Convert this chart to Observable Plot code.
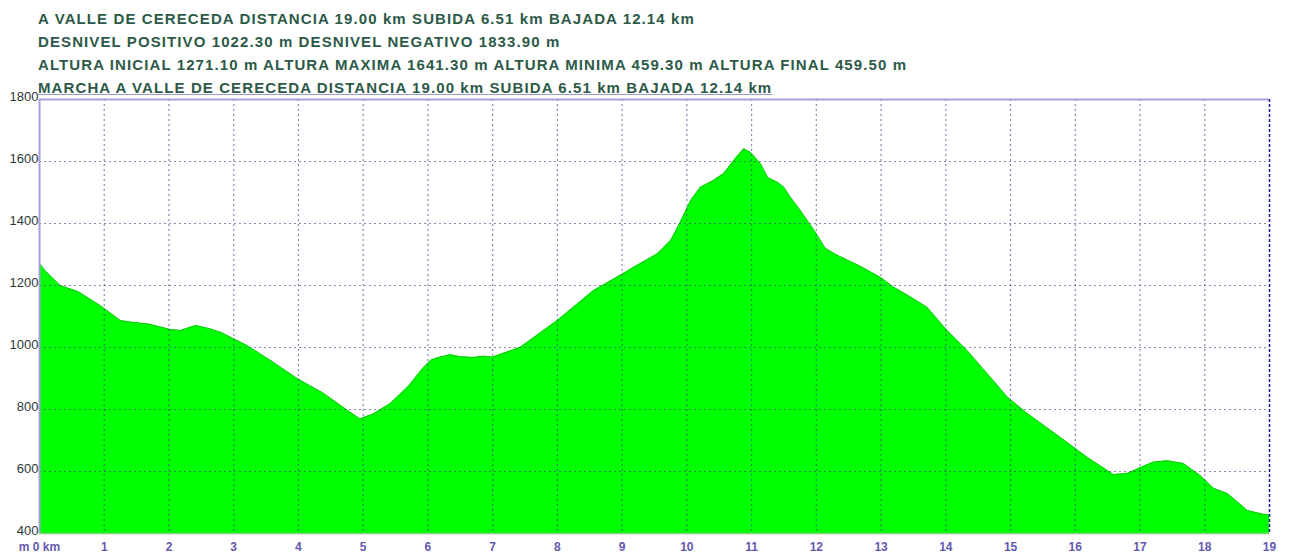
<!DOCTYPE html>
<html>
<head>
<meta charset="utf-8">
<script src="https://cdn.jsdelivr.net/npm/d3@7"></script>
<script src="https://cdn.jsdelivr.net/npm/@observablehq/plot@0.6"></script>
<style>
  html, body { margin: 0; padding: 0; background: #fff; }
  #header { height: 95px; box-sizing: border-box; padding: 7px 0 0 38px; font-family: "Liberation Sans", Arial, sans-serif; font-size: 15px; font-weight: bold; color: #2d5a48; }
  #header div { height: 23px; line-height: 23px; white-space: nowrap; letter-spacing: 1.1px; }
  #header .l4 { text-decoration: underline; text-decoration-color: #9a9ad0; }
</style>
</head>
<body>
<div id="header"></div>
<div id="chart"></div>
<script>
const titleLines = [
  "A VALLE DE CERECEDA DISTANCIA 19.00 km SUBIDA 6.51 km BAJADA 12.14 km",
  "DESNIVEL POSITIVO 1022.30 m DESNIVEL NEGATIVO 1833.90 m",
  "ALTURA INICIAL 1271.10 m ALTURA MAXIMA 1641.30 m ALTURA MINIMA 459.30 m ALTURA FINAL 459.50 m",
  "MARCHA A VALLE DE CERECEDA DISTANCIA 19.00 km SUBIDA 6.51 km BAJADA 12.14 km"
];

const distanceKm = [0, 0.1, 0.32, 0.6, 0.94, 1.25, 1.4, 1.7, 2.02, 2.18, 2.41, 2.6, 2.8, 3.21, 3.57, 3.98, 4.39, 4.76, 4.95, 5.15, 5.42, 5.7, 5.93, 6.05, 6.19, 6.35, 6.5, 6.7, 6.85, 7.0, 7.43, 8.0, 8.56, 9.02, 9.18, 9.55, 9.75, 9.86, 10.06, 10.21, 10.41, 10.57, 10.75, 10.88, 10.98, 11.14, 11.25, 11.4, 11.5, 11.6, 11.76, 11.96, 12.14, 12.3, 12.68, 13.0, 13.19, 13.4, 13.71, 14.02, 14.33, 14.73, 14.95, 15.26, 15.77, 16.19, 16.59, 16.81, 17.01, 17.2, 17.42, 17.67, 17.93, 18.14, 18.35, 18.66, 18.9, 19.0];
const elevationM = [1271, 1245, 1200, 1180, 1135, 1087, 1082, 1075, 1058, 1055, 1071, 1062, 1049, 1006, 958, 900, 852, 797, 770, 785, 819, 875, 935, 960, 969, 977, 970, 968, 972, 969, 1001, 1087, 1184, 1239, 1259, 1303, 1345, 1388, 1474, 1517, 1539, 1561, 1610, 1641, 1630, 1593, 1548, 1533, 1517, 1485, 1440, 1380, 1320, 1300, 1262, 1225, 1195, 1170, 1130, 1055, 990, 894, 840, 787, 710, 645, 590, 594, 613, 630, 635, 626, 587, 545, 529, 474, 462, 459.5];

const xTicks = d3.range(0, 20);
const xGridLines = d3.range(1, 19);
const yTicks = [400, 600, 800, 1000, 1200, 1400, 1600, 1800];
const yGridLines = [600, 800, 1000, 1200, 1400, 1600];

const header = document.getElementById("header");
titleLines.forEach((t, i) => {
  const d = document.createElement("div");
  d.textContent = t;
  if (i === 3) d.className = "l4";
  header.appendChild(d);
});

const profile = distanceKm.map((km, i) => ({km, elev: elevationM[i]}));

const chart = Plot.plot({
  width: 1289,
  height: 462,
  marginTop: 4,
  marginBottom: 24,
  marginLeft: 39,
  marginRight: 20,
  style: {overflow: "visible", background: "white", fontFamily: "Liberation Sans, Arial, sans-serif"},
  x: {domain: [0, 19], axis: null},
  y: {domain: [400, 1800], axis: null},
  marks: [
    Plot.areaY(profile, {x: "km", y1: 400, y2: "elev", fill: "#00ff00"}),
    Plot.line(profile, {x: "km", y: "elev", stroke: "#14c814", strokeWidth: 1}),
    Plot.gridX(xGridLines, {stroke: "#3a3a80", strokeOpacity: 0.6, strokeDasharray: "2,3", strokeWidth: 1.2}),
    Plot.gridY(yGridLines, {stroke: "#3a3a80", strokeOpacity: 0.6, strokeDasharray: "2,3", strokeWidth: 1.2}),
    Plot.ruleY([1800], {stroke: "#a8a0dc", strokeWidth: 2}),
    Plot.ruleX([0], {stroke: "#a8a0dc", strokeWidth: 2}),
    Plot.ruleY([400], {stroke: "#7fd07f", strokeWidth: 1.5}),
    Plot.ruleX([19], {stroke: "#1a1aa8", strokeWidth: 1.5, strokeDasharray: "3,2"}),
    Plot.axisY(yTicks, {anchor: "left", tickSize: 0, tickPadding: 1, dy: -3, fontSize: 13, fill: "#2b3a35", label: null,
      tickFormat: d => String(d)}),
    Plot.axisX(xTicks, {anchor: "bottom", tickSize: 0, tickPadding: 9, fontSize: 12, fontWeight: "bold", fill: "#6458b0", label: null,
      tickFormat: d => d === 0 ? "m 0 km" : String(d)})
  ]
});
document.getElementById("chart").appendChild(chart);
</script>
</body>
</html>
